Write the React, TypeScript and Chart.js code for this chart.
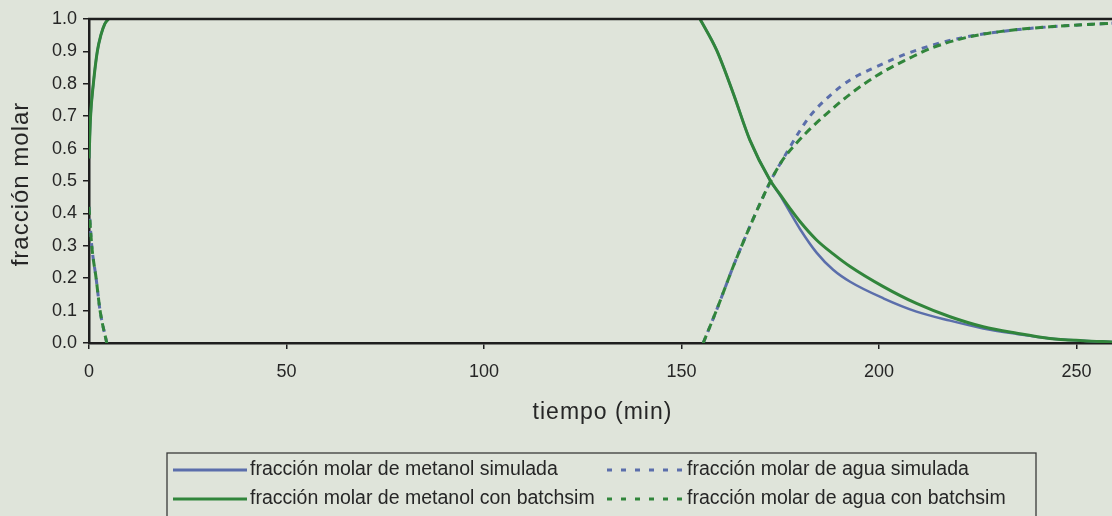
import React, { useEffect, useRef } from "react";
import { Chart, registerables } from "chart.js";

Chart.register(...registerables);

// ---- Data ----
const xTickValues = [0, 50, 100, 150, 200, 250];
const yTickValues = [0, 0.1, 0.2, 0.3, 0.4, 0.5, 0.6, 0.7, 0.8, 0.9, 1.0];
const xMin = 0;
const xMax = 259;

const tiempoMetanol = [0, 0.4, 1.1, 2.1, 3, 4, 4.9, 80, 154.7, 158.9, 163.1, 167.3, 172.4, 175, 177.5, 180, 184.2, 188.4, 192.7, 201.1, 209.5, 218, 226.4, 234.9, 243.3, 251.7, 259];
const metanolSimulada = [0.57, 0.7, 0.8, 0.9, 0.95, 0.985, 1.0, null, 1.0, 0.904, 0.771, 0.627, 0.503, 0.455, 0.403, 0.352, 0.279, 0.226, 0.189, 0.138, 0.097, 0.069, 0.045, 0.028, 0.014, 0.007, 0.003];
const metanolBatchsim = [0.57, 0.7, 0.8, 0.9, 0.95, 0.985, 1.0, null, 1.0, 0.904, 0.771, 0.627, 0.503, 0.458, 0.415, 0.375, 0.318, 0.275, 0.236, 0.174, 0.122, 0.081, 0.05, 0.03, 0.014, 0.007, 0.003];

const tiempoAgua = [0, 0.7, 1.8, 2.8, 4.5, 80, 155.5, 158.9, 163.1, 167.3, 170.7, 173.2, 175.8, 179.2, 182.5, 186.8, 192.7, 199.4, 206.2, 213.7, 222.2, 230.6, 243.3, 259];
const aguaSimulada = [0.42, 0.3, 0.2, 0.1, 0, null, 0, 0.102, 0.236, 0.359, 0.452, 0.515, 0.57, 0.64, 0.7, 0.755, 0.812, 0.853, 0.889, 0.92, 0.945, 0.961, 0.976, 0.987];
const aguaBatchsim = [0.42, 0.3, 0.2, 0.1, 0, null, 0, 0.102, 0.236, 0.359, 0.452, 0.515, 0.568, 0.618, 0.66, 0.708, 0.768, 0.825, 0.87, 0.912, 0.943, 0.961, 0.976, 0.987];

const labels = [
  "fracción molar de metanol simulada",
  "fracción molar de agua simulada",
  "fracción molar de metanol con batchsim",
  "fracción molar de agua con batchsim",
];
const xTitle = "tiempo (min)";
const yTitle = "fracción molar";

// ---- Styles ----
const BG = "#dfe4da";
const AXIS = "#1e1e1e";
const TEXT = "#262626";
const BLUE = "#5b6eab";
const GREEN = "#31853b";
const FONT = "'Liberation Sans', Arial, sans-serif";

const zip = (xs: number[], ys: (number | null)[]) => xs.map((x, i) => ({ x, y: ys[i] }));

const decorPlugin = {
  id: "decor",
  beforeDraw(chart: any) {
    const { ctx, width, height } = chart;
    ctx.save();
    ctx.fillStyle = BG;
    ctx.fillRect(0, 0, width, height);
    ctx.restore();
  },
  afterDatasetsDraw(chart: any) {
    const { ctx, chartArea } = chart;
    ctx.save();
    ctx.strokeStyle = AXIS;
    ctx.lineWidth = 2.5;
    ctx.beginPath();
    ctx.moveTo(chartArea.left - 1, chartArea.top);
    ctx.lineTo(chartArea.right, chartArea.top);
    ctx.stroke();
    ctx.restore();
  },
  afterDraw(chart: any) {
    const { ctx, chartArea } = chart;
    ctx.save();
    // y title
    ctx.fillStyle = TEXT;
    ctx.font = `24px ${FONT}`;
    (ctx as any).letterSpacing = "1px";
    ctx.textAlign = "center";
    ctx.textBaseline = "middle";
    ctx.translate(21, (chartArea.top + chartArea.bottom) / 2 + 3);
    ctx.rotate(-Math.PI / 2);
    ctx.fillText(yTitle, 0, 0);
    ctx.restore();

    ctx.save();
    ctx.fillStyle = TEXT;
    ctx.font = `23px ${FONT}`;
    (ctx as any).letterSpacing = "1px";
    ctx.textAlign = "center";
    ctx.textBaseline = "alphabetic";
    ctx.fillText(xTitle, (chartArea.left + chartArea.right) / 2 + 2, 419);
    ctx.restore();

    // legend
    ctx.save();
    ctx.strokeStyle = "#3a3a3a";
    ctx.lineWidth = 1.3;
    ctx.strokeRect(167, 453, 1036 - 167, 100);
    const rows = [470, 499];
    const items = [
      { col: 0, row: 0, color: BLUE, dash: [] as number[], text: labels[0] },
      { col: 1, row: 0, color: BLUE, dash: [5, 9], text: labels[1] },
      { col: 0, row: 1, color: GREEN, dash: [] as number[], text: labels[2] },
      { col: 1, row: 1, color: GREEN, dash: [5, 9], text: labels[3] },
    ];
    const cols = [
      { x0: 173, x1: 247, tx: 250 },
      { x0: 607, x1: 682, tx: 687 },
    ];
    for (const it of items) {
      const c = cols[it.col];
      const y = rows[it.row];
      ctx.strokeStyle = it.color;
      ctx.lineWidth = 3;
      ctx.setLineDash(it.dash);
      ctx.beginPath();
      ctx.moveTo(c.x0, y);
      ctx.lineTo(c.x1, y);
      ctx.stroke();
      ctx.setLineDash([]);
      ctx.fillStyle = TEXT;
      ctx.font = `19.5px ${FONT}`;
      ctx.textAlign = "left";
      ctx.textBaseline = "middle";
      ctx.fillText(it.text, c.tx, y);
    }
    ctx.restore();
  },
};

export default function App() {
  const canvasRef = useRef<HTMLCanvasElement | null>(null);

  useEffect(() => {
    const canvas = canvasRef.current;
    if (!canvas) return;
    const common = {
      fill: false,
      pointRadius: 0,
      cubicInterpolationMode: "monotone" as const,
      spanGaps: false,
    };
    const chart = new Chart(canvas, {
      type: "line",
      data: {
        datasets: [
          { ...common, label: labels[0], data: zip(tiempoMetanol, metanolSimulada), borderColor: BLUE, borderWidth: 2.5, order: 4 },
          { ...common, label: labels[1], data: zip(tiempoAgua, aguaSimulada), borderColor: BLUE, borderWidth: 3, borderDash: [6, 6], order: 3 },
          { ...common, label: labels[2], data: zip(tiempoMetanol, metanolBatchsim), borderColor: GREEN, borderWidth: 3, order: 1 },
          { ...common, label: labels[3], data: zip(tiempoAgua, aguaBatchsim), borderColor: GREEN, borderWidth: 3, borderDash: [8, 5], order: 2 },
        ] as any,
      },
      options: {
        animation: false,
        responsive: false,
        devicePixelRatio: 1,
        layout: { padding: { top: 19, left: 0, right: 0, bottom: 0 } },
        plugins: {
          legend: { display: false },
          tooltip: { enabled: false },
          title: { display: false },
        },
        scales: {
          x: {
            type: "linear",
            min: xMin,
            max: xMax,
            afterFit: (s: any) => { s.height = 173; },
            afterBuildTicks: (s: any) => { s.ticks = xTickValues.map((v) => ({ value: v })); },
            grid: { display: true, drawOnChartArea: false, drawTicks: true, tickLength: 6, color: AXIS, lineWidth: 1.5 },
            border: { display: true, color: AXIS, width: 2.5 },
            ticks: {
              color: TEXT,
              font: { family: FONT, size: 18 },
              padding: 12,
              maxRotation: 0,
              callback: (v: any) => String(v),
            },
          },
          y: {
            type: "linear",
            min: 0,
            max: 1,
            afterFit: (s: any) => { s.width = 89; },
            afterBuildTicks: (s: any) => { s.ticks = yTickValues.map((v) => ({ value: v })); },
            grid: { display: true, drawOnChartArea: false, drawTicks: true, tickLength: 6, color: AXIS, lineWidth: 1.5 },
            border: { display: true, color: AXIS, width: 2.5 },
            ticks: {
              color: TEXT,
              font: { family: FONT, size: 18 },
              padding: 6,
              callback: (v: any) => Number(v).toFixed(1),
            },
          },
        },
      },
      plugins: [decorPlugin],
    });
    return () => chart.destroy();
  }, []);

  return (
    <div style={{ position: "fixed", left: 0, top: 0, width: 1112, height: 516, background: BG, overflow: "hidden" }}>
      <canvas ref={canvasRef} width={1112} height={516} style={{ display: "block" }} />
    </div>
  );
}
